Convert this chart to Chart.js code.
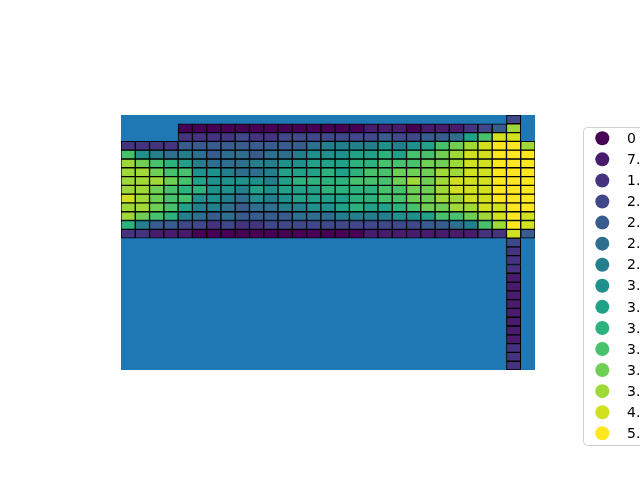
<!DOCTYPE html>
<html>
<head>
<meta charset="utf-8">
<script src="https://cdn.jsdelivr.net/npm/chart.js@4/dist/chart.umd.min.js"></script>
<style>
  body { margin: 0; background: #fff; }
  #grid { display: block; }
</style>
</head>
<body>
<canvas id="grid" width="640" height="480"></canvas>
<script>
// legend text, as much of it as the picture shows
var levelLabels = ['0', '7.', '1.', '2.', '2.', '2.', '2.', '3.', '3.', '3.', '3.', '3.', '3.', '4.', '5.'];

// one string per row, top to bottom, one char per column:
// '.' = no cell, 0-9 / a-e = legend level 0..14
var pad = '.'.repeat(27);
var gridRows = [
    pad + '3.',
    '....' + '00000000000' + '00111011123' + '4c.',
    '....2222' + '3223333' + '3334334' + '458add' + '.',
    '22224444' + '4444456' + '6667678' + 'abcdeec',
    'a7656545' + '5455677' + '78898aa' + 'bcddeee',
    'cba98655' + '5667788' + '899aaab' + 'bcddeee',
    'ccbaa776' + '5568889' + '89aabbb' + 'ccddeee',
    'cccba877' + '7768999' + '9aaabcb' + 'cdddeee',
    'ccba9977' + '6878889' + '999aabb' + 'cdddeee',
    'dcbaa776' + '5767888' + '899aabb' + 'ccddeee',
    'ccba8665' + '4556677' + '89889ab' + 'bccddee',
    'cba96545' + '4444555' + '6666778' + 'aabcded',
    '96443323' + '2233333' + '3333334' + '456aced',
    '22111000' + '0000000' + '0011111' + '11122d4',
    pad + '3.', pad + '2.', pad + '2.', pad + '2.',
    pad + '1.', pad + '1.', pad + '1.', pad + '1.',
    pad + '1.', pad + '1.', pad + '1.', pad + '1.',
    pad + '2.', pad + '2.', pad + '2.'
];

var nCols = 29;
var nRows = gridRows.length;

// viridis, sampled at the 15 legend levels
function viridis(t) {
    var c = [
        [0.2777273272234177, 0.005407344544966578, 0.3340998053353061],
        [0.1050930431085774, 1.404613529898575, 1.384590162594685],
        [-0.3308618287255563, 0.214847559468213, 0.09509516302823659],
        [-4.634230498983486, -5.799100973351585, -19.33244095627987],
        [6.228269936347081, 14.17993336680509, 56.69055260068105],
        [4.776384997670288, -13.74514537774601, -65.35303263337234],
        [-5.435455855934631, 4.645852612178535, 26.3124352495832]
    ];
    var rgb = [0, 1, 2].map(function(k) {
        var v = c[6][k];
        for (var i = 5; i >= 0; i--) v = c[i][k] + t * v;
        return Math.round(Math.max(0, Math.min(1, v)) * 255);
    });
    return 'rgb(' + rgb.join(',') + ')';
}
var palette = levelLabels.map(function(_, i) { return viridis(i / (levelLabels.length - 1)); });

var colLabels = [];
for (var c = 0; c < nCols; c++) colLabels.push(String(c));

var datasets = gridRows.map(function(row, r) {
    var vals = [], cols = [];
    for (var c = 0; c < nCols; c++) {
        var ch = row.charAt(c);
        if (ch === '.' || ch === '') {
            vals.push(null);
            cols.push('rgba(0,0,0,0)');
        } else {
            vals.push([r, r + 1]);
            cols.push(palette[parseInt(ch, 16)]);
        }
    }
    return {
        label: 'row ' + r,
        data: vals,
        backgroundColor: cols,
        borderColor: '#000',
        borderWidth: 1,
        borderSkipped: false,
        grouped: false,
        barPercentage: 1,
        categoryPercentage: 1
    };
});

var areaFill = {
    id: 'areaFill',
    beforeDatasetsDraw: function(chart) {
        var a = chart.chartArea, ctx = chart.ctx;
        ctx.save();
        ctx.fillStyle = '#1f77b4';
        ctx.fillRect(a.left, a.top, a.right - a.left, a.bottom - a.top);
        ctx.restore();
    }
};

// matplotlib-like legend, right of the axes, running off the canvas
var sideLegend = {
    id: 'sideLegend',
    afterDraw: function(chart) {
        var ctx = chart.ctx;
        var x0 = 583.5, y0 = 127.5, h = 318, y1 = 138.3, step = 21.07;
        ctx.save();
        ctx.beginPath();
        ctx.roundRect(x0, y0, 120, h, 4);
        ctx.fillStyle = 'rgba(255,255,255,0.8)';
        ctx.fill();
        ctx.strokeStyle = '#d0d0d0';
        ctx.lineWidth = 1;
        ctx.stroke();
        ctx.font = "14px 'DejaVu Sans'";
        ctx.textBaseline = 'middle';
        for (var i = 0; i < levelLabels.length; i++) {
            var y = y1 + i * step;
            ctx.beginPath();
            ctx.arc(602.3, y, 7, 0, Math.PI * 2);
            ctx.fillStyle = palette[i];
            ctx.fill();
            ctx.fillStyle = '#000';
            ctx.fillText(levelLabels[i], 627, y + 1);
        }
        ctx.restore();
    }
};

var chart = new Chart(document.getElementById('grid'), {
    type: 'bar',
    data: { labels: colLabels, datasets: datasets },
    options: {
        responsive: false,
        animation: false,
        layout: { padding: { left: 121, top: 115, right: 105, bottom: 110 } },
        scales: {
            x: { display: false, offset: true },
            y: { display: false, min: 0, max: nRows, reverse: true }
        },
        plugins: {
            legend: { display: false },
            tooltip: { enabled: false }
        }
    },
    plugins: [areaFill, sideLegend]
});
</script>
</body>
</html>
